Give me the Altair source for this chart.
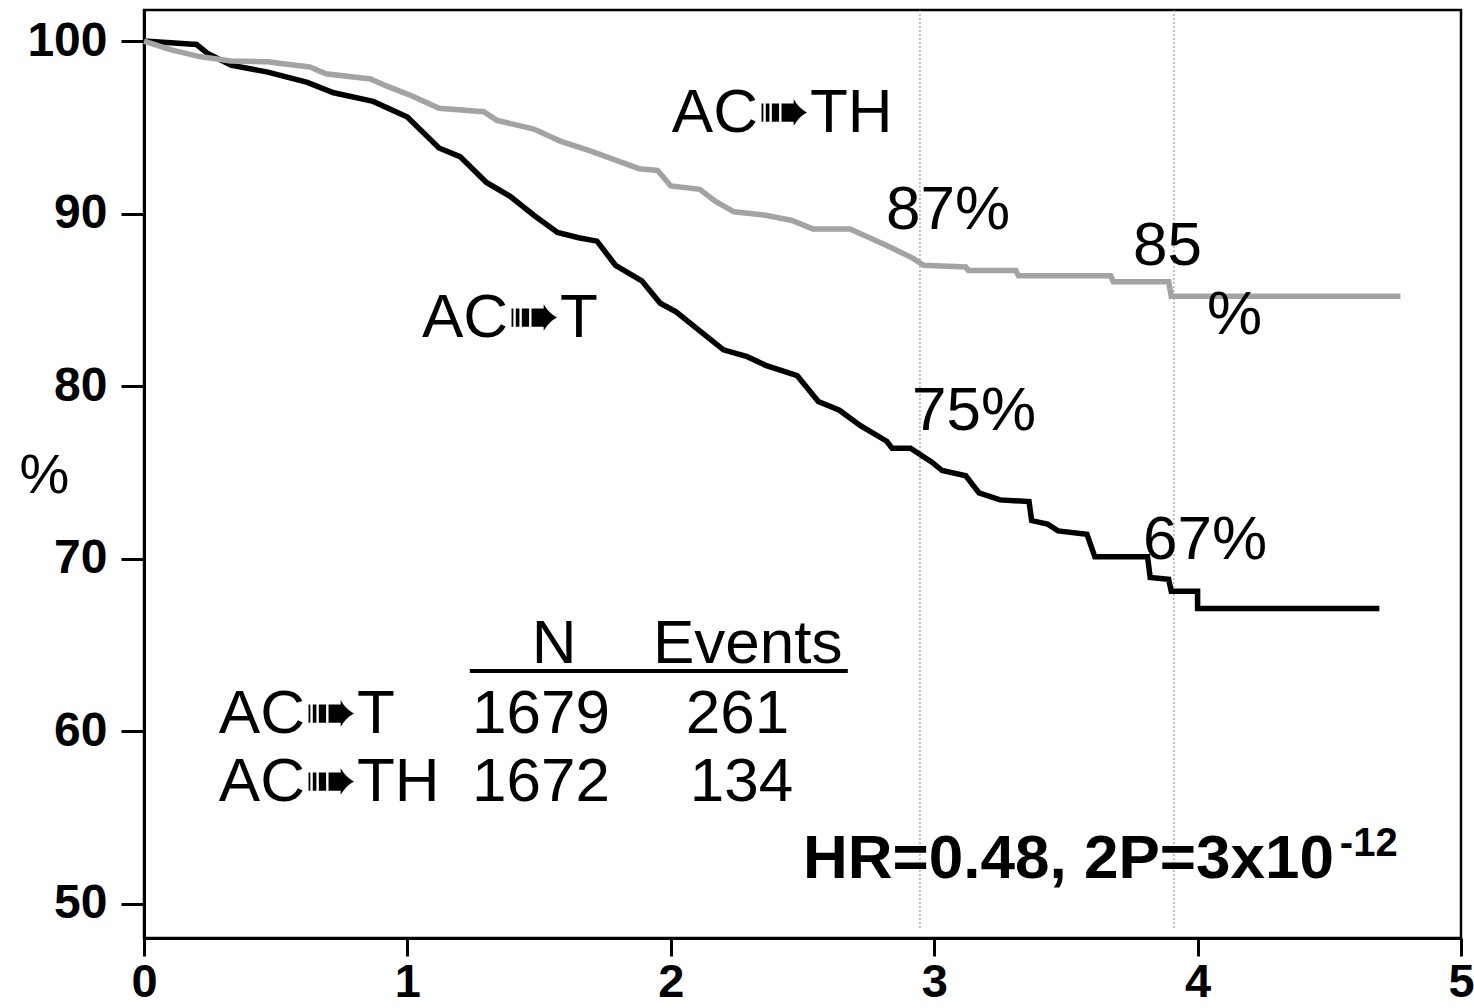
import altair as alt
import pandas as pd

# ---- data ----
T_ACT = [0.0, 0.20, 0.24, 0.33, 0.47, 0.62, 0.72, 0.87, 1.00, 1.12, 1.20, 1.30, 1.39, 1.48, 1.57,
         1.65, 1.72, 1.79, 1.89, 1.96, 2.02, 2.11, 2.20, 2.29, 2.36, 2.48, 2.56, 2.64, 2.72, 2.82,
         2.84, 2.91, 2.99, 3.03, 3.12, 3.17, 3.25, 3.36, 3.37, 3.43, 3.47, 3.58, 3.61, 3.81, 3.82,
         3.89, 3.90, 4.00, 4.00, 4.69]
S_ACT = [100.0, 99.8, 99.3, 98.6, 98.2, 97.6, 97.0, 96.5, 95.6, 93.8, 93.3, 91.8, 91.0, 89.9, 88.9,
         88.6, 88.4, 87.0, 86.1, 84.8, 84.3, 83.2, 82.1, 81.7, 81.2, 80.6, 79.1, 78.6, 77.7, 76.8,
         76.4, 76.4, 75.6, 75.1, 74.8, 73.8, 73.4, 73.3, 72.2, 72.0, 71.6, 71.4, 70.1, 70.1, 68.9,
         68.8, 68.1, 68.1, 67.1, 67.1]

T_ACTH = [0.0, 0.10, 0.21, 0.33, 0.47, 0.52, 0.63, 0.69, 0.86, 0.92, 1.02, 1.12, 1.29, 1.34, 1.48,
          1.58, 1.70, 1.79, 1.88, 1.95, 2.00, 2.11, 2.17, 2.24, 2.36, 2.46, 2.54, 2.68, 2.74, 2.84,
          2.92, 2.96, 3.12, 3.13, 3.31, 3.32, 3.67, 3.68, 3.89, 3.90, 4.77]
S_ACTH = [100.0, 99.5, 99.1, 98.85, 98.8, 98.7, 98.5, 98.1, 97.8, 97.4, 96.8, 96.1, 95.9, 95.4, 94.9,
          94.2, 93.6, 93.1, 92.6, 92.5, 91.6, 91.4, 90.7, 90.1, 89.9, 89.6, 89.1, 89.1, 88.7, 88.0,
          87.4, 87.0, 86.9, 86.7, 86.7, 86.4, 86.4, 86.05, 86.05, 85.2, 85.2]

GROUPS = ["AC\u27a0T", "AC\u27a0TH"]
REF_YEARS = [2.946, 3.91]

LABEL_TEXT = ["AC\u27a0TH", "87%", "85", "%", "AC\u27a0T", "75%", "67%",
              "N", "Events",
              "AC\u27a0T", "1679", "261",
              "AC\u27a0TH", "1672", "134"]
LABEL_X = [2.004, 2.817, 3.755, 4.036, 1.055, 2.916, 3.793,
           1.472, 1.932,
           0.284, 1.245, 2.057,
           0.284, 1.245, 2.072]
LABEL_Y = [94.75, 89.13, 86.99, 83.0, 82.82, 77.43, 69.96,
           63.95, 63.95,
           59.89, 59.89, 59.89,
           55.95, 55.95, 55.95]

HR_TEXT = ["HR=0.48, 2P=3x10"]
HR_X = [2.502]
HR_Y = [51.49]
SUP_TEXT = ["-12"]
SUP_X = [4.54]
SUP_Y = [52.75]

UNDER_X = [1.237]
UNDER_X2 = [2.672]
UNDER_Y = [63.48]

# ---- build tables ----
rows = []
for i, (t, s) in enumerate(zip(T_ACT, S_ACT)):
    rows.append({"group": GROUPS[0], "t": t, "s": s, "o": i})
for i, (t, s) in enumerate(zip(T_ACTH, S_ACTH)):
    rows.append({"group": GROUPS[1], "t": t, "s": s, "o": i})
curves = pd.DataFrame(rows)

labels = pd.DataFrame({"text": LABEL_TEXT, "x": LABEL_X, "y": LABEL_Y})
hr = pd.DataFrame({"text": HR_TEXT, "x": HR_X, "y": HR_Y})
sup = pd.DataFrame({"text": SUP_TEXT, "x": SUP_X, "y": SUP_Y})
refs = pd.DataFrame({"x": REF_YEARS})
under = pd.DataFrame({"x": UNDER_X, "x2": UNDER_X2, "y": UNDER_Y})

W, H = 1317, 928
FONT = "Liberation Sans"

xscale = alt.Scale(domain=[0, 5], nice=False, zero=False)
yscale = alt.Scale(domain=[48, 101.8], nice=False, zero=False)

xaxis = alt.Axis(values=[0, 1, 2, 3, 4, 5], title=None, tickSize=18, labelPadding=3,
                 labelFontSize=47, labelFontWeight="bold", labelFont=FONT, format="d",
                 labelFlush=False)
yaxis = alt.Axis(values=[50, 60, 70, 80, 90, 100], title="%", tickSize=23, labelPadding=14,
                 labelFontSize=48, labelFontWeight="bold", labelFont=FONT,
                 titleAngle=0, titleX=-100, titleY=465, titleAlign="center",
                 titleBaseline="middle", titleFontSize=56, titleFontWeight="normal",
                 titleFont=FONT, labelFlush=False)

ref_layer = alt.Chart(refs).mark_rule(color="#888888", strokeWidth=1, strokeDash=[2, 2]).encode(
    x=alt.X("x:Q", scale=xscale, axis=xaxis),
    y=alt.value(0),
    y2=alt.value(920),
)

lines = alt.Chart(curves).mark_line(strokeWidth=5.5, interpolate="linear").encode(
    x=alt.X("t:Q", scale=xscale, axis=xaxis),
    y=alt.Y("s:Q", scale=yscale, axis=yaxis),
    color=alt.Color("group:N", scale=alt.Scale(domain=GROUPS, range=["#000000", "#a3a3a3"]),
                    legend=None),
    order="o:Q",
    detail="group:N",
)

text_layer = alt.Chart(labels).mark_text(font=FONT, fontSize=62, align="left",
                                         baseline="alphabetic", color="black").encode(
    x=alt.X("x:Q", scale=xscale), y=alt.Y("y:Q", scale=yscale), text="text:N")

hr_layer = alt.Chart(hr).mark_text(font=FONT, fontSize=62, fontWeight="bold", align="left",
                                   baseline="alphabetic", color="black").encode(
    x=alt.X("x:Q", scale=xscale), y=alt.Y("y:Q", scale=yscale), text="text:N")

sup_layer = alt.Chart(sup).mark_text(font=FONT, fontSize=40, fontWeight="bold", align="left",
                                     baseline="alphabetic", color="black").encode(
    x=alt.X("x:Q", scale=xscale), y=alt.Y("y:Q", scale=yscale), text="text:N")

under_layer = alt.Chart(under).mark_rule(color="black", strokeWidth=4).encode(
    x=alt.X("x:Q", scale=xscale), x2="x2:Q", y=alt.Y("y:Q", scale=yscale))

chart = alt.layer(ref_layer, lines, text_layer, hr_layer, sup_layer, under_layer).properties(
    width=W, height=H,
    autosize=alt.AutoSizeParams(type="none"),
    padding={"left": 144, "top": 10, "right": 13, "bottom": 70},
    background="white",
).configure_view(
    stroke="black", strokeWidth=2.5
).configure_axis(
    grid=False, domainColor="black", domainWidth=3, tickColor="black", tickWidth=3,
    labelColor="black", titleColor="black",
)

chart.save("out.html", embed_options={"renderer": "svg", "actions": False})
